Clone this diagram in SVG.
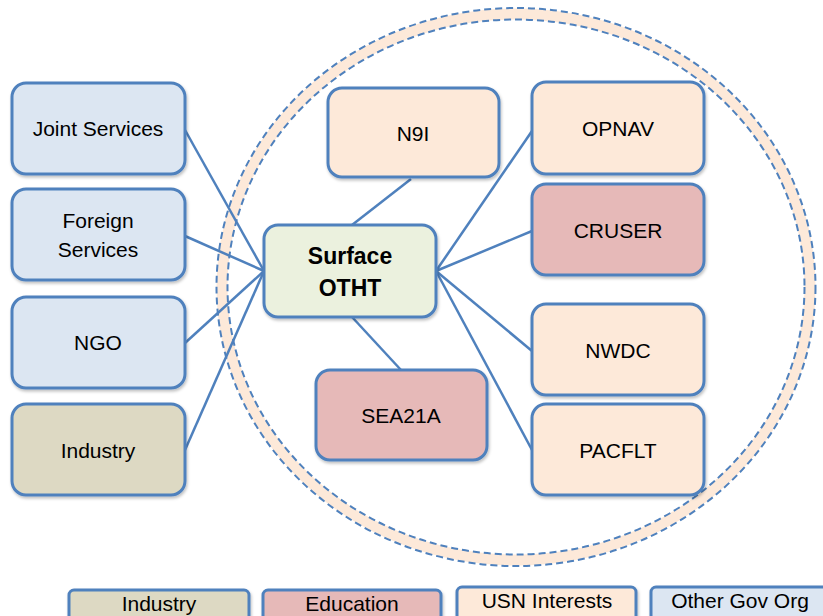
<svg xmlns="http://www.w3.org/2000/svg" width="823" height="616" viewBox="0 0 823 616">
<defs>
<filter id="sh" x="-10%" y="-10%" width="130%" height="130%">
<feDropShadow dx="1" dy="2" stdDeviation="1.5" flood-color="#000" flood-opacity="0.25"/>
</filter>
</defs>
<style>
.n{stroke:#4f81bd;stroke-width:3;filter:url(#sh)}
.gov{fill:#dce6f2}.usn{fill:#fde9d9}.edu{fill:#e6b9b8}.ind{fill:#ddd9c3}.ctr{fill:#ebf1de}
text{font-family:"Liberation Sans",Arial,sans-serif;font-size:21px;fill:#000;text-anchor:middle}
.b{font-weight:bold;font-size:23px}
.c line{stroke:#4f81bd;stroke-width:2.5}
.ring{fill:none;stroke:#fde9d9;stroke-width:11}
.dash{fill:none;stroke:#4f81bd;stroke-width:2;stroke-dasharray:7 4}
</style>
<rect width="823" height="616" fill="#fff"/>
<g id="ring">
<ellipse class="ring" cx="516" cy="287" rx="294" ry="273"/>
<ellipse class="dash" cx="516" cy="287" rx="299.5" ry="279"/>
<ellipse class="dash" cx="516" cy="287" rx="288.5" ry="267.5"/>
</g>
<g class="c" id="connectors">
<line x1="185" y1="130" x2="264" y2="271"/>
<line x1="185" y1="236" x2="264" y2="271"/>
<line x1="185" y1="343" x2="264" y2="271"/>
<line x1="185" y1="450" x2="264" y2="271"/>
<line x1="436" y1="271" x2="532" y2="131"/>
<line x1="436" y1="271" x2="532" y2="231"/>
<line x1="436" y1="271" x2="532" y2="351"/>
<line x1="436" y1="271" x2="532" y2="450"/>
<line x1="411" y1="179" x2="352" y2="225"/>
<line x1="352" y1="317" x2="401" y2="370"/>
</g>
<g id="joint"><rect class="n gov" x="12" y="83" width="173" height="91" rx="14"/><text x="98" y="136">Joint Services</text></g>
<g id="foreign"><rect class="n gov" x="12" y="189" width="173" height="91" rx="14"/><text x="98" y="228">Foreign</text><text x="98" y="257">Services</text></g>
<g id="ngo"><rect class="n gov" x="12" y="297" width="173" height="91" rx="14"/><text x="98" y="350">NGO</text></g>
<g id="industry"><rect class="n ind" x="12" y="404" width="173" height="91" rx="14"/><text x="98" y="458">Industry</text></g>
<g id="n9i"><rect class="n usn" x="328" y="88" width="171" height="89" rx="14"/><text x="413" y="141">N9I</text></g>
<g id="opnav"><rect class="n usn" x="532" y="82" width="172" height="92" rx="14"/><text x="618" y="136">OPNAV</text></g>
<g id="cruser"><rect class="n edu" x="532" y="184" width="172" height="91" rx="14"/><text x="618" y="238">CRUSER</text></g>
<g id="nwdc"><rect class="n usn" x="532" y="304" width="172" height="91" rx="14"/><text x="618" y="358">NWDC</text></g>
<g id="pacflt"><rect class="n usn" x="532" y="404" width="172" height="91" rx="14"/><text x="618" y="458">PACFLT</text></g>
<g id="sea21a"><rect class="n edu" x="316" y="370" width="171" height="90" rx="14"/><text x="401" y="423">SEA21A</text></g>
<g id="surface"><rect class="n ctr" x="264" y="225" width="172" height="92" rx="14"/><text class="b" x="350" y="264">Surface</text><text class="b" x="350" y="296">OTHT</text></g>
<g id="legend">
<g id="lg-industry"><rect class="n ind" x="69" y="590" width="180" height="40" rx="5"/><text x="159" y="611">Industry</text></g>
<g id="lg-education"><rect class="n edu" x="263" y="590" width="178" height="40" rx="5"/><text x="352" y="611">Education</text></g>
<g id="lg-usn"><rect class="n usn" x="457" y="587" width="179" height="40" rx="5"/><text x="547" y="608">USN Interests</text></g>
<g id="lg-gov"><rect class="n gov" x="651" y="587" width="180" height="40" rx="5"/><text x="740" y="608">Other Gov Org</text></g>
</g>
</svg>
